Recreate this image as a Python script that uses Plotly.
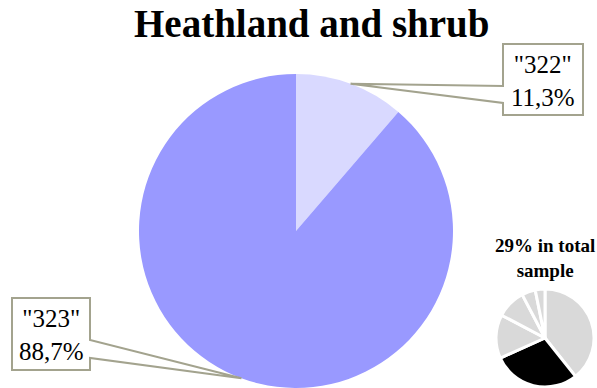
import numpy as np
import plotly.graph_objects as go

# ---- data ----
main_labels = ['"322"', '"323"']
main_values = [11.3, 88.7]
main_text = ["11,3%", "88,7%"]
main_colors = ["#d9d9ff", "#9999ff"]

inset_values = [39.3, 29.0, 14.4, 9.6, 4.5, 3.2]
inset_colors = ["#d9d9d9", "#000000", "#d9d9d9", "#d9d9d9", "#d9d9d9", "#d9d9d9"]
inset_label = "29% in total<br>sample"
title_text = "Heathland and shrub"

W, H = 597, 388
FONT = "Liberation Serif"

def px(x):
    return x / W

def py(y):
    return 1 - y / H

# main pie geometry (pixels)
cx, cy, R = 296, 231, 157

fig = go.Figure()
fig.add_trace(go.Pie(
    labels=main_labels, values=main_values, sort=False, direction="clockwise",
    rotation=0, textinfo="none", hoverinfo="label+percent",
    marker=dict(colors=main_colors, line=dict(width=0)),
    domain=dict(x=[px(cx - R), px(cx + R)], y=[py(cy + R), py(cy - R)]),
))

icx, icy, iR = 545, 338, 49
fig.add_trace(go.Pie(
    values=inset_values, sort=False, direction="clockwise", rotation=0,
    textinfo="none", hoverinfo="percent",
    marker=dict(colors=inset_colors, line=dict(color="white", width=3)),
    domain=dict(x=[px(icx - iR), px(icx + iR)], y=[py(icy + iR), py(icy - iR)]),
))

# anchors on slice mid-angles
vals = np.array(main_values, dtype=float)
cum = np.cumsum(vals) - vals / 2
ang = cum / vals.sum() * 2 * np.pi
anchors = [(cx + R * np.sin(a), cy - R * np.cos(a)) for a in ang]

line_col = "#a3a38e"
boxes = [
    dict(L=503, R=583, T=44, B=115, side="left", y1=86, y2=103),
    dict(L=12, R=90, T=298, B=370, side="right", y1=340, y2=358),
]
shapes = []
annotations = []
for i, b in enumerate(boxes):
    ax, ay = anchors[i]
    if b["side"] == "left":
        pts = [(b["L"], b["T"]), (b["R"], b["T"]), (b["R"], b["B"]), (b["L"], b["B"]),
               (b["L"], b["y2"]), (ax, ay), (b["L"], b["y1"])]
    else:
        pts = [(b["L"], b["T"]), (b["R"], b["T"]), (b["R"], b["y1"]), (ax, ay),
               (b["R"], b["y2"]), (b["R"], b["B"]), (b["L"], b["B"])]
    path = "M " + " L ".join(f"{px(x):.5f},{py(y):.5f}" for x, y in pts) + " Z"
    shapes.append(dict(type="path", xref="paper", yref="paper", path=path,
                       fillcolor="white", line=dict(color=line_col, width=2)))
    annotations.append(dict(
        x=px((b["L"] + b["R"]) / 2), y=py((b["T"] + b["B"]) / 2 + 1),
        xref="paper", yref="paper", xanchor="center", yanchor="middle",
        text=f"{main_labels[i]}<br>{main_text[i]}", showarrow=False,
        font=dict(family=FONT, size=25, color="black"), align="center",
    ))

annotations.append(dict(
    x=px(311), y=py(0), xref="paper", yref="paper", xanchor="center", yanchor="top",
    text=f"<b>{title_text}</b>", showarrow=False,
    font=dict(family=FONT, size=39, color="black"),
))
annotations.append(dict(
    x=px(545), y=py(233), xref="paper", yref="paper", xanchor="center", yanchor="top",
    text=f"<b>{inset_label}</b>", showarrow=False,
    font=dict(family=FONT, size=19, color="black"),
))

fig.update_layout(
    width=W, height=H, margin=dict(l=0, r=0, t=0, b=0),
    paper_bgcolor="white", plot_bgcolor="white", showlegend=False,
    shapes=shapes, annotations=annotations,
)
fig.write_html("out.html")
